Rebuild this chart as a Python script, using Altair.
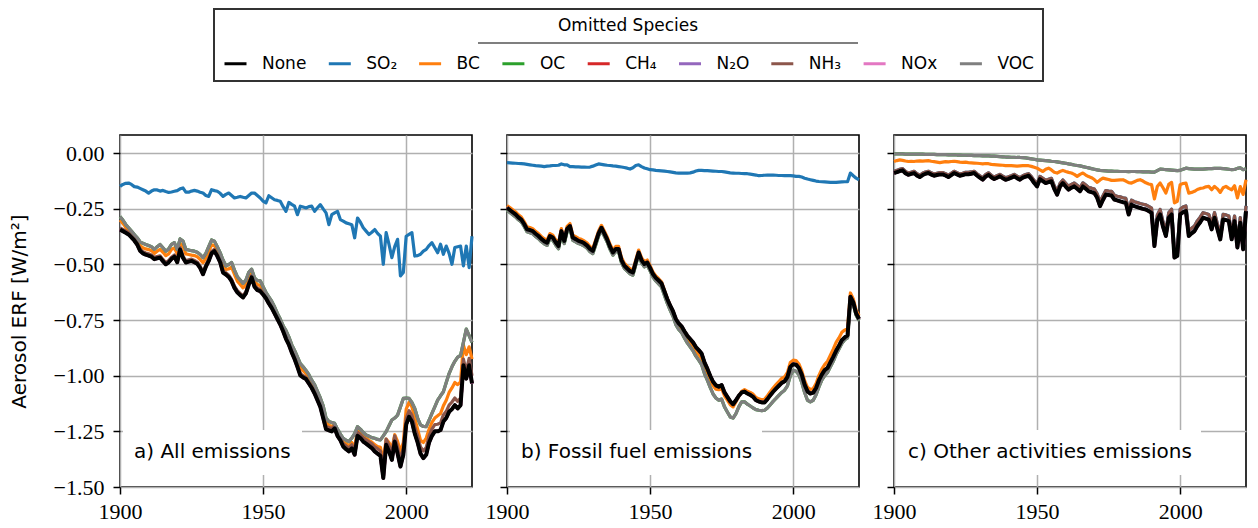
import altair as alt
import pandas as pd

years = list(range(1900, 2024))
species = ["None", "SO₂", "BC", "OC", "CH₄", "N₂O", "NH₃", "NOx", "VOC"]
colors = ["#000000", "#1f77b4", "#ff7f0e", "#2ca02c", "#d62728",
          "#9467bd", "#8c564b", "#e377c2", "#7f7f7f"]
draw_order = ["SO₂", "BC", "OC", "CH₄", "N₂O", "NH₃", "NOx", "VOC", "None"]
panel_labels = ["a) All emissions", "b) Fossil fuel emissions",
                "c) Other activities emissions"]
y_ticks = [0.0, -0.25, -0.5, -0.75, -1.0, -1.25, -1.5]
x_ticks = [1900, 1950, 2000]

# ---------------- panel a : all emissions ----------------
none_a = [
    -0.343, -0.350, -0.357, -0.365, -0.378, -0.392, -0.410, -0.438, -0.450, -0.456,
    -0.460, -0.465, -0.476, -0.472, -0.469, -0.485, -0.499, -0.490, -0.475, -0.465,
    -0.490, -0.432, -0.470, -0.491, -0.487, -0.484, -0.490, -0.497, -0.515, -0.544,
    -0.510, -0.484, -0.450, -0.440, -0.462, -0.490, -0.536, -0.545, -0.556, -0.575,
    -0.605, -0.625, -0.638, -0.648, -0.630, -0.590, -0.558, -0.600, -0.615, -0.620,
    -0.635, -0.652, -0.675, -0.695, -0.720, -0.745, -0.770, -0.800, -0.834, -0.860,
    -0.895, -0.925, -0.960, -0.998, -1.008, -1.015, -1.035, -1.055, -1.080, -1.110,
    -1.140, -1.190, -1.240, -1.245, -1.250, -1.236, -1.270, -1.290, -1.318, -1.330,
    -1.340, -1.326, -1.355, -1.270, -1.280, -1.296, -1.305, -1.315, -1.325, -1.340,
    -1.350, -1.360, -1.460, -1.310, -1.340, -1.378, -1.296, -1.350, -1.408, -1.355,
    -1.220, -1.184, -1.206, -1.260, -1.300, -1.350, -1.370, -1.355, -1.300, -1.270,
    -1.250, -1.250, -1.244, -1.206, -1.190, -1.162, -1.150, -1.132, -1.147, -1.132,
    -0.953, -1.013, -0.953, -1.035]
so2_a = [
    -0.149, -0.140, -0.135, -0.134, -0.140, -0.150, -0.152, -0.158, -0.164, -0.170,
    -0.179, -0.170, -0.164, -0.165, -0.170, -0.167, -0.172, -0.176, -0.174, -0.171,
    -0.168, -0.160, -0.156, -0.175, -0.175, -0.170, -0.167, -0.170, -0.175, -0.179,
    -0.190, -0.194, -0.164, -0.168, -0.171, -0.180, -0.194, -0.185, -0.179, -0.190,
    -0.201, -0.198, -0.194, -0.198, -0.201, -0.190, -0.179, -0.179, -0.190, -0.201,
    -0.215, -0.223, -0.191, -0.200, -0.209, -0.212, -0.216, -0.240, -0.261, -0.221,
    -0.230, -0.238, -0.276, -0.238, -0.242, -0.246, -0.240, -0.238, -0.261, -0.245,
    -0.231, -0.250, -0.268, -0.321, -0.276, -0.268, -0.261, -0.298, -0.305, -0.313,
    -0.317, -0.321, -0.380, -0.291, -0.310, -0.335, -0.350, -0.365, -0.355, -0.343,
    -0.360, -0.373, -0.499, -0.357, -0.410, -0.469, -0.420, -0.387, -0.551, -0.536,
    -0.373, -0.365, -0.357, -0.462, -0.460, -0.454, -0.440, -0.432, -0.415, -0.402,
    -0.425, -0.447, -0.409, -0.454, -0.417, -0.450, -0.499, -0.424, -0.420, -0.417,
    -0.506, -0.417, -0.514, -0.373]
bc_a = [
    -0.300, -0.315, -0.333, -0.348, -0.362, -0.378, -0.394, -0.415, -0.425, -0.430,
    -0.433, -0.438, -0.450, -0.440, -0.432, -0.445, -0.460, -0.452, -0.432, -0.425,
    -0.452, -0.405, -0.418, -0.452, -0.455, -0.458, -0.460, -0.465, -0.477, -0.492,
    -0.472, -0.442, -0.412, -0.415, -0.440, -0.467, -0.500, -0.522, -0.520, -0.512,
    -0.545, -0.575, -0.590, -0.605, -0.592, -0.555, -0.538, -0.578, -0.590, -0.595,
    -0.615, -0.640, -0.660, -0.680, -0.705, -0.733, -0.757, -0.788, -0.815, -0.840,
    -0.875, -0.905, -0.935, -0.965, -0.978, -0.990, -1.010, -1.035, -1.055, -1.085,
    -1.115, -1.160, -1.210, -1.222, -1.228, -1.220, -1.252, -1.272, -1.298, -1.305,
    -1.315, -1.300, -1.320, -1.245, -1.255, -1.270, -1.280, -1.290, -1.298, -1.310,
    -1.318, -1.322, -1.380, -1.285, -1.300, -1.330, -1.265, -1.295, -1.340, -1.300,
    -1.150, -1.120, -1.140, -1.190, -1.240, -1.290, -1.300, -1.280, -1.240, -1.210,
    -1.190, -1.180, -1.170, -1.135, -1.110, -1.075, -1.055, -1.030, -1.040, -1.028,
    -0.863, -0.905, -0.870, -0.925]
nh3_a = [
    -0.335, -0.342, -0.349, -0.357, -0.370, -0.384, -0.402, -0.430, -0.442, -0.448,
    -0.452, -0.457, -0.468, -0.464, -0.461, -0.477, -0.491, -0.482, -0.467, -0.457,
    -0.482, -0.424, -0.462, -0.483, -0.479, -0.476, -0.482, -0.489, -0.507, -0.536,
    -0.502, -0.476, -0.442, -0.432, -0.454, -0.482, -0.528, -0.537, -0.548, -0.567,
    -0.597, -0.617, -0.630, -0.640, -0.622, -0.582, -0.550, -0.592, -0.607, -0.612,
    -0.627, -0.644, -0.667, -0.687, -0.712, -0.737, -0.762, -0.792, -0.826, -0.852,
    -0.887, -0.917, -0.952, -0.990, -1.000, -1.007, -1.027, -1.047, -1.072, -1.100,
    -1.130, -1.180, -1.228, -1.233, -1.238, -1.224, -1.258, -1.278, -1.305, -1.316,
    -1.325, -1.310, -1.338, -1.254, -1.264, -1.279, -1.288, -1.297, -1.306, -1.320,
    -1.328, -1.338, -1.430, -1.285, -1.314, -1.350, -1.270, -1.322, -1.378, -1.325,
    -1.192, -1.157, -1.178, -1.230, -1.270, -1.320, -1.338, -1.323, -1.270, -1.240,
    -1.220, -1.218, -1.212, -1.176, -1.160, -1.132, -1.118, -1.100, -1.115, -1.100,
    -0.925, -0.980, -0.922, -1.000]
voc_a = [
    -0.285, -0.300, -0.320, -0.335, -0.350, -0.365, -0.380, -0.398, -0.405, -0.410,
    -0.415, -0.420, -0.432, -0.420, -0.410, -0.425, -0.440, -0.430, -0.410, -0.402,
    -0.432, -0.385, -0.395, -0.432, -0.435, -0.438, -0.440, -0.445, -0.455, -0.469,
    -0.450, -0.420, -0.390, -0.395, -0.420, -0.447, -0.480, -0.506, -0.500, -0.491,
    -0.525, -0.555, -0.570, -0.585, -0.570, -0.535, -0.521, -0.560, -0.573, -0.573,
    -0.600, -0.625, -0.645, -0.665, -0.690, -0.720, -0.745, -0.775, -0.797, -0.825,
    -0.860, -0.886, -0.915, -0.945, -0.960, -0.976, -0.995, -1.020, -1.040, -1.070,
    -1.100, -1.135, -1.190, -1.206, -1.210, -1.214, -1.240, -1.262, -1.281, -1.290,
    -1.296, -1.280, -1.260, -1.229, -1.240, -1.255, -1.266, -1.272, -1.278, -1.281,
    -1.286, -1.288, -1.270, -1.251, -1.225, -1.199, -1.190, -1.177, -1.140, -1.102,
    -1.100, -1.102, -1.120, -1.147, -1.190, -1.221, -1.228, -1.229, -1.200, -1.169,
    -1.140, -1.110, -1.090, -1.072, -1.030, -0.990, -0.960, -0.935, -0.916, -0.909,
    -0.850, -0.790, -0.820, -0.850]

# ---------------- panel b : fossil fuel emissions ----------------
none_b = [
    -0.245, -0.255, -0.265, -0.275, -0.288, -0.298, -0.318, -0.342, -0.345, -0.350,
    -0.362, -0.372, -0.385, -0.395, -0.402, -0.372, -0.379, -0.400, -0.417, -0.350,
    -0.394, -0.340, -0.327, -0.379, -0.386, -0.394, -0.398, -0.405, -0.415, -0.430,
    -0.439, -0.400, -0.360, -0.335, -0.360, -0.387, -0.420, -0.446, -0.430, -0.430,
    -0.480, -0.505, -0.518, -0.530, -0.536, -0.490, -0.446, -0.480, -0.498, -0.491,
    -0.515, -0.543, -0.560, -0.572, -0.585, -0.620, -0.655, -0.684, -0.710, -0.745,
    -0.765, -0.778, -0.800, -0.820, -0.835, -0.850, -0.871, -0.885, -0.900, -0.940,
    -0.968, -1.000, -1.027, -1.043, -1.049, -1.042, -1.075, -1.095, -1.115, -1.128,
    -1.110, -1.090, -1.075, -1.071, -1.080, -1.086, -1.095, -1.110, -1.116, -1.120,
    -1.120, -1.105, -1.088, -1.072, -1.058, -1.045, -1.032, -1.025, -1.005, -0.960,
    -0.948, -0.950, -0.965, -0.995, -1.040, -1.070, -1.080, -1.076, -1.055, -1.020,
    -0.995, -0.975, -0.965, -0.940, -0.915, -0.888, -0.865, -0.840, -0.828, -0.819,
    -0.645, -0.670, -0.720, -0.745]
so2_b = [
    -0.042, -0.043, -0.044, -0.045, -0.046, -0.047, -0.048, -0.050, -0.052, -0.054,
    -0.056, -0.057, -0.058, -0.060, -0.058, -0.057, -0.055, -0.055, -0.054, -0.048,
    -0.052, -0.052, -0.060, -0.060, -0.061, -0.061, -0.062, -0.062, -0.063, -0.062,
    -0.058, -0.053, -0.048, -0.050, -0.052, -0.054, -0.055, -0.057, -0.058, -0.060,
    -0.062, -0.064, -0.067, -0.071, -0.065, -0.055, -0.052, -0.060, -0.066, -0.070,
    -0.074, -0.075, -0.077, -0.078, -0.079, -0.080, -0.082, -0.084, -0.086, -0.088,
    -0.089, -0.089, -0.089, -0.089, -0.088, -0.085, -0.080, -0.077, -0.077, -0.078,
    -0.078, -0.079, -0.080, -0.081, -0.082, -0.082, -0.084, -0.086, -0.088, -0.089,
    -0.090, -0.090, -0.091, -0.092, -0.092, -0.094, -0.096, -0.098, -0.101, -0.100,
    -0.099, -0.098, -0.098, -0.098, -0.099, -0.100, -0.100, -0.101, -0.101, -0.101,
    -0.102, -0.104, -0.104, -0.107, -0.112, -0.116, -0.119, -0.122, -0.125, -0.127,
    -0.128, -0.129, -0.130, -0.131, -0.131, -0.131, -0.130, -0.129, -0.128, -0.128,
    -0.089, -0.101, -0.112, -0.119]
bc_b = [
    -0.235, -0.244, -0.254, -0.264, -0.277, -0.287, -0.307, -0.331, -0.334, -0.339,
    -0.351, -0.361, -0.374, -0.384, -0.391, -0.361, -0.368, -0.389, -0.406, -0.339,
    -0.383, -0.329, -0.316, -0.368, -0.375, -0.383, -0.387, -0.394, -0.404, -0.419,
    -0.428, -0.389, -0.349, -0.324, -0.349, -0.376, -0.409, -0.435, -0.419, -0.419,
    -0.469, -0.494, -0.507, -0.519, -0.525, -0.479, -0.435, -0.469, -0.487, -0.480,
    -0.505, -0.533, -0.551, -0.564, -0.578, -0.615, -0.652, -0.684, -0.712, -0.750,
    -0.772, -0.787, -0.810, -0.832, -0.848, -0.865, -0.888, -0.905, -0.922, -0.962,
    -0.988, -1.018, -1.045, -1.060, -1.063, -1.058, -1.090, -1.110, -1.130, -1.140,
    -1.118, -1.092, -1.070, -1.062, -1.070, -1.075, -1.083, -1.098, -1.104, -1.108,
    -1.106, -1.090, -1.072, -1.055, -1.040, -1.026, -1.012, -1.005, -0.985, -0.940,
    -0.930, -0.932, -0.947, -0.978, -1.022, -1.052, -1.062, -1.058, -1.035, -0.998,
    -0.970, -0.950, -0.935, -0.908, -0.880, -0.850, -0.830, -0.805, -0.795, -0.788,
    -0.628, -0.655, -0.705, -0.730]
voc_b = [
    -0.255, -0.266, -0.276, -0.286, -0.299, -0.309, -0.329, -0.353, -0.357, -0.362,
    -0.374, -0.384, -0.397, -0.407, -0.414, -0.384, -0.391, -0.412, -0.429, -0.362,
    -0.406, -0.352, -0.339, -0.391, -0.398, -0.406, -0.410, -0.417, -0.427, -0.442,
    -0.451, -0.412, -0.372, -0.347, -0.372, -0.399, -0.432, -0.458, -0.442, -0.442,
    -0.492, -0.517, -0.530, -0.542, -0.548, -0.502, -0.458, -0.492, -0.510, -0.503,
    -0.528, -0.556, -0.574, -0.587, -0.601, -0.638, -0.674, -0.705, -0.733, -0.770,
    -0.792, -0.806, -0.830, -0.852, -0.870, -0.888, -0.912, -0.930, -0.950, -0.990,
    -1.020, -1.052, -1.082, -1.100, -1.110, -1.105, -1.140, -1.163, -1.185, -1.190,
    -1.170, -1.140, -1.117, -1.117, -1.128, -1.136, -1.145, -1.152, -1.155, -1.157,
    -1.155, -1.145, -1.130, -1.115, -1.102, -1.088, -1.075, -1.065, -1.045, -1.000,
    -0.975, -0.980, -0.995, -1.030, -1.075, -1.110, -1.117, -1.110, -1.085, -1.050,
    -1.020, -1.000, -0.985, -0.960, -0.935, -0.905, -0.880, -0.855, -0.838, -0.830,
    -0.650, -0.678, -0.728, -0.752]

# ---------------- panel c : other activities emissions ----------------
none_c = [
    -0.089, -0.085, -0.080, -0.077, -0.090, -0.097, -0.093, -0.089, -0.100, -0.107,
    -0.098, -0.092, -0.089, -0.096, -0.101, -0.098, -0.095, -0.095, -0.100, -0.107,
    -0.098, -0.089, -0.095, -0.101, -0.098, -0.094, -0.094, -0.092, -0.089, -0.100,
    -0.110, -0.119, -0.105, -0.097, -0.108, -0.116, -0.110, -0.104, -0.112, -0.119,
    -0.115, -0.110, -0.104, -0.112, -0.119, -0.110, -0.105, -0.101, -0.115, -0.134,
    -0.149, -0.116, -0.125, -0.134, -0.130, -0.126, -0.160, -0.186, -0.150, -0.134,
    -0.150, -0.164, -0.155, -0.149, -0.160, -0.171, -0.149, -0.160, -0.171, -0.175,
    -0.179, -0.200, -0.238, -0.210, -0.186, -0.188, -0.190, -0.208, -0.212, -0.216,
    -0.220, -0.223, -0.275, -0.231, -0.238, -0.242, -0.246, -0.250, -0.253, -0.260,
    -0.268, -0.417, -0.300, -0.275, -0.330, -0.372, -0.290, -0.275, -0.469, -0.461,
    -0.275, -0.265, -0.260, -0.372, -0.360, -0.350, -0.327, -0.310, -0.290, -0.294,
    -0.298, -0.342, -0.290, -0.340, -0.387, -0.298, -0.300, -0.305, -0.387, -0.305,
    -0.424, -0.312, -0.432, -0.260]
nh3_c = [
    -0.081, -0.077, -0.072, -0.069, -0.082, -0.089, -0.085, -0.081, -0.092, -0.099,
    -0.090, -0.084, -0.081, -0.088, -0.093, -0.090, -0.087, -0.087, -0.092, -0.099,
    -0.090, -0.081, -0.087, -0.093, -0.090, -0.086, -0.086, -0.084, -0.081, -0.092,
    -0.101, -0.110, -0.096, -0.088, -0.099, -0.107, -0.101, -0.095, -0.103, -0.110,
    -0.106, -0.101, -0.095, -0.103, -0.110, -0.101, -0.096, -0.092, -0.105, -0.123,
    -0.137, -0.104, -0.113, -0.121, -0.117, -0.113, -0.146, -0.172, -0.136, -0.120,
    -0.135, -0.149, -0.140, -0.134, -0.144, -0.155, -0.133, -0.143, -0.154, -0.157,
    -0.161, -0.182, -0.220, -0.192, -0.168, -0.170, -0.171, -0.189, -0.193, -0.196,
    -0.200, -0.203, -0.255, -0.211, -0.218, -0.222, -0.226, -0.229, -0.232, -0.239,
    -0.247, -0.395, -0.279, -0.253, -0.308, -0.350, -0.268, -0.252, -0.446, -0.438,
    -0.252, -0.242, -0.237, -0.349, -0.337, -0.327, -0.304, -0.287, -0.267, -0.271,
    -0.275, -0.319, -0.267, -0.317, -0.364, -0.275, -0.277, -0.282, -0.364, -0.282,
    -0.401, -0.289, -0.409, -0.237]
bc_c = [
    -0.037, -0.033, -0.030, -0.032, -0.035, -0.037, -0.036, -0.037, -0.035, -0.034,
    -0.035, -0.034, -0.033, -0.036, -0.038, -0.040, -0.042, -0.040, -0.038, -0.039,
    -0.037, -0.036, -0.038, -0.040, -0.041, -0.040, -0.042, -0.043, -0.044, -0.045,
    -0.046, -0.048, -0.046, -0.047, -0.050, -0.051, -0.052, -0.053, -0.054, -0.056,
    -0.056, -0.056, -0.057, -0.058, -0.057, -0.056, -0.055, -0.056, -0.059, -0.063,
    -0.067, -0.075, -0.082, -0.072, -0.067, -0.075, -0.085, -0.089, -0.082, -0.077,
    -0.082, -0.086, -0.089, -0.095, -0.104, -0.095, -0.089, -0.098, -0.105, -0.110,
    -0.118, -0.131, -0.120, -0.112, -0.115, -0.118, -0.122, -0.122, -0.121, -0.120,
    -0.119, -0.125, -0.132, -0.134, -0.128, -0.122, -0.119, -0.125, -0.133, -0.138,
    -0.141, -0.205, -0.150, -0.134, -0.155, -0.179, -0.140, -0.131, -0.223, -0.216,
    -0.141, -0.136, -0.134, -0.179, -0.176, -0.171, -0.163, -0.158, -0.156, -0.151,
    -0.149, -0.164, -0.149, -0.160, -0.176, -0.155, -0.149, -0.158, -0.164, -0.146,
    -0.201, -0.150, -0.185, -0.119]
voc_c = [
    -0.003, -0.003, -0.003, -0.003, -0.004, -0.004, -0.004, -0.004, -0.004, -0.004,
    -0.004, -0.005, -0.005, -0.005, -0.005, -0.006, -0.006, -0.006, -0.006, -0.007,
    -0.007, -0.007, -0.008, -0.008, -0.009, -0.009, -0.010, -0.010, -0.011, -0.011,
    -0.011, -0.012, -0.012, -0.012, -0.013, -0.013, -0.014, -0.015, -0.016, -0.017,
    -0.017, -0.018, -0.018, -0.019, -0.019, -0.020, -0.021, -0.023, -0.025, -0.027,
    -0.030, -0.031, -0.032, -0.033, -0.034, -0.036, -0.037, -0.039, -0.041, -0.043,
    -0.045, -0.048, -0.050, -0.053, -0.055, -0.057, -0.060, -0.063, -0.066, -0.069,
    -0.072, -0.075, -0.077, -0.078, -0.079, -0.080, -0.080, -0.081, -0.081, -0.082,
    -0.082, -0.082, -0.083, -0.082, -0.082, -0.083, -0.083, -0.084, -0.084, -0.084,
    -0.085, -0.085, -0.078, -0.071, -0.072, -0.074, -0.075, -0.076, -0.077, -0.078,
    -0.077, -0.072, -0.067, -0.069, -0.070, -0.071, -0.071, -0.071, -0.071, -0.070,
    -0.069, -0.069, -0.068, -0.068, -0.068, -0.069, -0.070, -0.072, -0.074, -0.073,
    -0.068, -0.065, -0.074, -0.070]

panels = [
    {"None": none_a, "SO₂": so2_a, "BC": bc_a, "OC": voc_a, "CH₄": none_a,
     "N₂O": none_a, "NH₃": nh3_a, "NOx": none_a, "VOC": voc_a},
    {"None": none_b, "SO₂": so2_b, "BC": bc_b, "OC": voc_b, "CH₄": none_b,
     "N₂O": none_b, "NH₃": none_b, "NOx": none_b, "VOC": voc_b},
    {"None": none_c, "SO₂": nh3_c, "BC": bc_c, "OC": voc_c, "CH₄": none_c,
     "N₂O": none_c, "NH₃": nh3_c, "NOx": none_c, "VOC": voc_c},
]
box_right = [182, 255, 307]

PW = 352   # panel width
PH = 352   # panel height

color = alt.Color(
    "species:N",
    scale=alt.Scale(domain=species, range=colors),
    legend=alt.Legend(
        title="Omitted Species", orient="none", legendX=94, legendY=-126,
        direction="horizontal", titleOrient="top", titleAnchor="middle",
        symbolType="stroke", symbolStrokeWidth=3, symbolSize=484,
        labelOffset=14, columnPadding=15.3, padding=9, titlePadding=16,
        strokeColor="#333333", cornerRadius=0,
    ),
)


def make_panel(i):
    series = panels[i]
    rows = []
    for sp in species:
        for yr, v in zip(years, series[sp]):
            rows.append({"species": sp, "year": yr, "value": v})
    df = pd.DataFrame(rows)
    first = i == 0
    x = alt.X("year:Q", scale=alt.Scale(domain=[1900, 2023], nice=False, zero=False),
              axis=alt.Axis(values=x_ticks, format="d", title=None, labelFlush=False,
                            labelPadding=7))
    y_axis = alt.Axis(values=y_ticks, format=".2f", labels=first, labelPadding=9,
                      title="Aerosol ERF [W/m²]" if first else None, titlePadding=24)
    y = alt.Y("value:Q", scale=alt.Scale(domain=[-1.5, 0.082], nice=False, zero=False),
              axis=y_axis)
    lab = pd.DataFrame({"label": [panel_labels[i]]})
    box = alt.Chart(lab).mark_rect(color="white").encode(
        x=alt.value(3), x2=alt.value(box_right[i]),
        y=alt.value(PH - 57), y2=alt.value(PH - 12))
    layers = [box]
    base = alt.Chart(df)
    for sp in draw_order:
        w = 4 if sp == "None" else 3.2
        layers.append(
            base.transform_filter(alt.datum.species == sp)
            .mark_line(strokeWidth=w, strokeJoin="round")
            .encode(x=x, y=y, color=color)
        )
    txt = alt.Chart(lab).mark_text(font="DejaVu Sans", fontSize=20, align="left",
                                   baseline="alphabetic", color="black").encode(
        x=alt.value(14), y=alt.value(PH - 29), text="label:N")
    layers.append(txt)
    if first:
        ul = alt.Chart(lab).mark_rule(color="black", strokeWidth=1.2).encode(
            x=alt.value(358), x2=alt.value(738), y=alt.value(-92))
        layers.append(ul)
    return alt.layer(*layers).properties(width=PW, height=PH)


chart = (
    alt.hconcat(make_panel(0), make_panel(1), make_panel(2), spacing=35, bounds="flush")
    .resolve_scale(color="shared")
    .properties(padding={"left": 0, "top": 0, "right": 0, "bottom": 0})
    .configure_view(stroke="black", strokeWidth=1.6)
    .configure_axis(
        grid=True, gridColor="#b0b0b0", gridWidth=1.5, domain=False,
        tickColor="black", tickWidth=1.5, tickSize=7,
        labelFont="Liberation Serif", labelFontSize=22, labelColor="black",
        titleFont="DejaVu Sans", titleFontSize=20, titleFontWeight="normal",
        titleColor="black",
    )
    .configure_legend(
        titleFont="DejaVu Sans", titleFontSize=17, titleFontWeight="normal",
        titleColor="black", labelFont="DejaVu Sans", labelFontSize=17,
        labelColor="black", strokeWidth=2,
    )
)

chart.save("out.html", embed_options={"renderer": "svg", "actions": False})
